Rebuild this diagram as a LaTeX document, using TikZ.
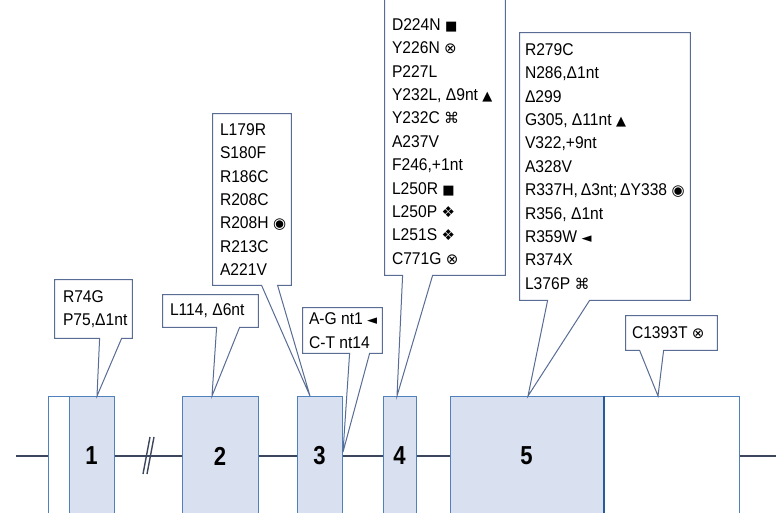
\documentclass[tikz,border=0pt]{standalone}
\usepackage{fontspec}
\setmainfont{Liberation Sans}
\newfontfamily\lblfont[FakeStretch=0.92]{Liberation Sans}
\newfontfamily\numfont[FakeStretch=0.85]{Liberation Sans}
\newfontfamily\symfont{DejaVu Sans}
\usetikzlibrary{calc,fit}
\definecolor{exonfill}{RGB}{217,224,240}
\definecolor{exonline}{RGB}{79,129,189}
\definecolor{divcol}{RGB}{40,90,160}
\definecolor{calloutline}{RGB}{88,108,148}
\definecolor{introncol}{RGB}{60,70,92}
\newcommand{\sym}[1]{{\symfont\fontsize{7.5}{7.5}\selectfont #1}}
\newcommand{\smsym}[1]{{\symfont\fontsize{6.5}{6.5}\selectfont #1}}
\begin{document}
\begin{tikzpicture}[x=0.5pt,y=-0.5pt,every node/.style={font=\lblfont\fontsize{8.5}{11.7}\selectfont}]
    \tikzset{
      exon/.style={draw=exonline,fill=exonfill,line width=0.5pt,minimum height=60pt,
        inner sep=0pt,font=\numfont\bfseries\fontsize{13}{14}\selectfont},
      utr/.style={exon,fill=white},
      cbox/.style={inner sep=0pt},
      ctext/.style={anchor=west,align=left,inner sep=0pt},
      cline/.style={draw=calloutline,fill=white,line width=0.5pt},
      intron/.style={line width=0.7pt,introncol},
      divline/.style={line width=1pt,divcol}
    }
    \newcommand{\callout}[5]{%
      \draw[cline] (#1.south west) -- ($(#1.north west)+(0,-#5)$)
        -- ($(#1.north east)+(0,-#5)$) -- (#1.south east)
        -- ($(#1.south west)+(#3,0)$) -- (#4) -- ($(#1.south west)+(#2,0)$) -- cycle;
    }
    \useasboundingbox (0,0) rectangle (776,513);
    \clip (0,0) rectangle (776,513);

    \coordinate (lstart) at (16,456);
    \coordinate (rend) at (776,456);

    \node[utr,minimum width=10.5pt] (utr5) at (58.5,456) {};
    \node[exon,minimum width=22.5pt] (e1) at (91.5,456) {1};
    \node[exon,minimum width=38pt] (e2) at (220,456) {2};
    \node[exon,minimum width=22.5pt] (e3) at (319.5,456) {3};
    \node[exon,minimum width=16.5pt] (e4) at (399.5,456) {4};
    \node[exon,minimum width=76.5pt] (e5) at (526.5,456) {5};
    \node[utr,minimum width=68pt] (utr3) at (671,456) {};
    \draw[divline] (e5.north east) -- (e5.south east);

    \draw[intron] (lstart) -- (utr5.west);
    \draw[intron] (e1.east) -- (e2.west);
    \draw[intron] (e2.east) -- (e3.west);
    \draw[intron] (e3.east) -- (e4.west);
    \draw[intron] (e4.east) -- (e5.west);
    \draw[intron] (utr3.east) -- (rend);
    \draw[intron] (143,474) -- (150,437);
    \draw[intron] (147,474) -- (154,437);

    \coordinate (t1) at (97,396);
    \coordinate (t2) at (212,396);
    \coordinate (t3) at (310,396);
    \coordinate (t4) at (343,452);
    \coordinate (t5) at (397,396);
    \coordinate (t6) at (528,396);
    \coordinate (t7) at (658,396);

    \node[cbox,fit={(55,280) (132,338)}] (b1) {};
    \callout{b1}{45}{67}{t1}{0}
    \node[ctext] (b1t) at ($(b1.west)+(8,0)$) {R74G\\P75,Δ1nt};

    \node[cbox,fit={(163,295) (258,327)}] (b2) {};
    \callout{b2}{54}{77}{t2}{0}
    \node[ctext] (b2t) at ($(b2.west)+(7,0)$) {L114, Δ6nt};

    \node[cbox,fit={(213,114) (291,285)}] (b3) {};
    \callout{b3}{49}{65}{t3}{0}
    \node[ctext] (b3t) at ($(b3.west)+(7,0)$)
      {L179R\\S180F\\R186C\\R208C\\R208H \sym{◉}\\R213C\\A221V};

    \node[cbox,fit={(303,308) (382,353)}] (b4) {};
    \callout{b4}{47}{67}{t4}{0}
    \node[ctext] (b4t) at ($(b4.west)+(6,0)$) {A-G nt1 \smsym{◄}\\C-T nt14};

    \node[cbox,fit={(385,8) (505,275)}] (b5) {};
    \callout{b5}{18}{48}{t5}{18}
    \node[ctext] (b5t) at ($(b5.west)+(7,0)$)
      {D224N \smsym{■}\\Y226N \sym{⊗}\\P227L\\Y232L, Δ9nt \smsym{▲}\\Y232C \sym{⌘}\\A237V\\
       F246,+1nt\\L250R \smsym{■}\\L250P \sym{❖}\\L251S \sym{❖}\\C771G \sym{⊗}};

    \node[cbox,fit={(520,33) (690,300)}] (b6) {};
    \callout{b6}{28}{70}{t6}{0}
    \node[ctext] (b6t) at ($(b6.west)+(5,0)$)
      {R279C\\N286,Δ1nt\\Δ299\\G305, Δ11nt \smsym{▲}\\V322,+9nt\\A328V\\
       R337H,\,Δ3nt;\,ΔY338 \sym{◉}\\R356, Δ1nt\\R359W \smsym{◄}\\R374X\\L376P \sym{⌘}};

    \node[cbox,fit={(626,316) (717,350)}] (b7) {};
    \callout{b7}{14}{38}{t7}{0}
    \node[ctext] (b7t) at ($(b7.west)+(6,0)$) {C1393T \sym{⊗}};
  \end{tikzpicture}
\end{document}
